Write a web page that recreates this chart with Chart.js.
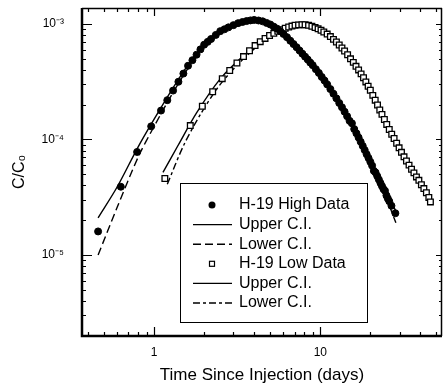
<!DOCTYPE html>
<html>
<head>
<meta charset="utf-8">
<script src="https://cdn.jsdelivr.net/npm/chart.js@4.4.1/dist/chart.umd.min.js"></script>
<style>
  html, body { margin: 0; padding: 0; background: #fff; }
  canvas { display: block; }
</style>
</head>
<body>
<canvas id="c" width="443" height="388"></canvas>
<script>
// H-19 high data (days, C/C0)
const highT = [0.46, 0.63, 0.79, 0.96, 1.10, 1.20, 1.30, 1.40, 1.50, 1.60, 1.70, 1.80, 1.90, 2.00, 2.10, 2.20,
  2.35, 2.50, 2.65, 2.80, 3.00, 3.20, 3.40, 3.60, 3.80, 4.00, 4.25, 4.50, 4.75, 5.00, 5.25, 5.50, 5.75, 6.00,
  6.30, 6.60, 6.90, 7.20, 7.50, 7.80, 8.10, 8.40, 8.70, 9.00, 9.40, 9.80, 10.2, 10.6, 11.0,
  11.5, 12.0, 12.5, 13.0, 13.5, 14.0, 14.5, 15.0, 15.5, 16.0, 16.5, 17.0,
  17.5, 18.0, 18.5, 19.0, 19.5, 20.0, 20.5, 21.0, 21.5, 22.0, 22.5, 23.0, 23.5, 24.0, 24.5, 25.0, 25.5, 26.0,
  26.8, 28.3];
const highC = [1.6e-5, 3.9e-5, 7.8e-5, 1.3e-4, 1.78e-4, 2.19e-4, 2.65e-4, 3.16e-4, 3.72e-4, 4.35e-4, 4.86e-4, 5.42e-4, 6.03e-4, 6.62e-4, 7.0e-4, 7.41e-4,
  8.04e-4, 8.67e-4, 9.0e-4, 9.35e-4, 9.77e-4, 1.016e-3, 1.04e-3, 1.06e-3, 1.074e-3, 1.084e-3, 1.072e-3, 1.054e-3, 1.021e-3, 9.9e-4, 9.48e-4, 9.1e-4, 8.65e-4, 8.2e-4,
  7.69e-4, 7.16e-4, 6.7e-4, 6.29e-4, 5.89e-4, 5.53e-4, 5.21e-4, 4.92e-4, 4.63e-4, 4.4e-4, 4.06e-4, 3.77e-4, 3.48e-4, 3.24e-4, 3.0e-4,
  2.73e-4, 2.49e-4, 2.27e-4, 2.07e-4, 1.9e-4, 1.74e-4, 1.59e-4, 1.45e-4, 1.38e-4, 1.23e-4, 1.13e-4, 1.04e-4,
  9.55e-5, 8.8e-5, 8.1e-5, 7.46e-5, 6.92e-5, 6.41e-5, 5.94e-5, 5.35e-5, 5.18e-5, 4.83e-5, 4.51e-5, 4.21e-5, 3.95e-5, 3.72e-5, 3.6e-5, 3.28e-5, 3.08e-5, 2.92e-5,
  2.67e-5, 2.3e-5];

// confidence limits for the high data
const highUpT = [0.46, 0.6, 0.8, 1.0, 1.3, 1.7, 2.2, 3.0, 4.0, 5.0, 6.5, 9.0, 12, 16, 20, 24, 28.5];
const highUpC = [2.1e-5, 3.9e-5, 8.6e-5, 1.5e-4, 2.8e-4, 5.0e-4, 7.6e-4, 9.9e-4, 1.09e-3, 1.0e-3, 7.5e-4, 4.5e-4, 2.55e-4, 1.26e-4, 6.6e-5, 3.9e-5, 2.4e-5];
const highLoT = [0.46, 0.6, 0.8, 1.0, 1.3, 1.7, 2.2, 3.0, 4.0, 5.0, 6.5, 9.0, 12, 16, 20, 24, 28.5];
const highLoC = [1.0e-5, 2.6e-5, 7.0e-5, 1.3e-4, 2.55e-4, 4.7e-4, 7.2e-4, 9.6e-4, 1.07e-3, 9.8e-4, 7.2e-4, 4.3e-4, 2.45e-4, 1.2e-4, 6.2e-5, 3.6e-5, 1.9e-5];

// H-19 low data
const lowT = [1.16, 1.65, 1.95, 2.25, 2.57, 2.85, 3.15, 3.45, 3.75, 4.05, 4.35, 4.65, 4.95, 5.25, 5.55, 5.85, 6.15, 6.45, 6.75, 7.05,
  7.40, 7.75, 8.10, 8.50, 8.90, 9.30, 9.70, 10.1, 10.5, 11.0, 11.5, 12.0, 12.5, 13.0, 13.5, 14.0, 14.6, 15.2, 15.8, 16.4,
  17.0, 17.6, 18.2, 18.8, 19.4, 20.0, 20.7, 21.4, 22.1, 22.8, 23.5, 24.3, 25.1, 26.0, 26.9, 27.8, 28.8, 29.8, 30.8, 31.9,
  33.0, 34.2, 35.4, 36.6, 37.9, 39.2, 40.6, 42.0, 43.5, 45.0, 46.0];
const lowC = [4.6e-5, 1.32e-4, 1.94e-4, 2.59e-4, 3.36e-4, 3.96e-4, 4.59e-4, 5.22e-4, 5.87e-4, 6.5e-4, 7.03e-4, 7.5e-4, 7.94e-4, 8.3e-4, 8.63e-4, 8.92e-4, 9.19e-4, 9.42e-4, 9.59e-4, 9.75e-4,
  9.82e-4, 9.86e-4, 9.84e-4, 9.73e-4, 9.55e-4, 9.31e-4, 9.08e-4, 8.83e-4, 8.53e-4, 8.18e-4, 7.78e-4, 7.36e-4, 6.98e-4, 6.58e-4, 6.19e-4, 5.83e-4, 5.41e-4, 4.99e-4, 4.65e-4, 4.3e-4,
  4.0e-4, 3.7e-4, 3.42e-4, 3.15e-4, 2.89e-4, 2.67e-4, 2.41e-4, 2.19e-4, 1.99e-4, 1.8e-4, 1.65e-4, 1.49e-4, 1.35e-4, 1.22e-4, 1.11e-4, 1.02e-4, 9.27e-5, 8.47e-5, 7.74e-5, 7.08e-5,
  6.52e-5, 6.0e-5, 5.52e-5, 5.14e-5, 4.74e-5, 4.43e-5, 4.06e-5, 3.76e-5, 3.46e-5, 3.15e-5, 2.88e-5];

// confidence limits for the low data
const lowUpT = [1.13, 1.4, 1.8, 2.5, 3.5, 5.0, 7.0, 9.0, 12, 16, 20, 25, 30, 36, 42, 47];
const lowUpC = [5.2e-5, 9.0e-5, 1.7e-4, 3.35e-4, 5.4e-4, 8.1e-4, 9.9e-4, 9.7e-4, 7.5e-4, 4.75e-4, 2.75e-4, 1.4e-4, 8.2e-5, 5.4e-5, 3.9e-5, 3.0e-5];
const lowLoT = [1.2, 1.5, 1.9, 2.5, 3.5, 5.0, 7.0, 9.0, 12, 16, 20, 25, 30, 36, 42, 47];
const lowLoC = [4.1e-5, 8.8e-5, 1.65e-4, 3.0e-4, 5.1e-4, 7.8e-4, 9.6e-4, 9.5e-4, 7.2e-4, 4.55e-4, 2.6e-4, 1.32e-4, 7.8e-5, 5.0e-5, 3.6e-5, 2.7e-5];

const xTicks = [1, 10];
const xTickLabels = ['1', '10'];
const yTicks = [1e-5, 1e-4, 1e-3];
const yTickLabels = ['10\u207B\u2075', '10\u207B\u2074', '10\u207B\u00B3'];

const FONT = '"Liberation Sans", Arial, Helvetica, sans-serif';
Chart.defaults.font.family = FONT;
Chart.defaults.color = '#000';

const pts = (xs, ys) => xs.map((x, i) => ({ x: x, y: ys[i] }));

function lineSet(label, xs, ys, dash) {
    return {
        label: label, data: pts(xs, ys), showLine: true, pointRadius: 0,
        borderColor: '#000', borderWidth: 1.4, borderDash: dash, tension: 0.3, order: 2
    };
}

// plot box reaches almost to the right edge of the picture
const rightEdgePlugin = {
    id: 'rightEdge',
    afterLayout(chart) {
        const xs = chart.scales.x;
        const r = chart.width - 1;
        chart.chartArea.right = r;
        chart.chartArea.width = r - chart.chartArea.left;
        xs.right = r;
        xs.width = r - xs.left;
        xs.configure();
    }
};

// frame with inward ticks on all four sides
const framePlugin = {
    id: 'frame',
    afterDraw(chart) {
        const { ctx, chartArea: a, scales } = chart;
        const xs = scales.x, ys = scales.y;
        ctx.save();
        ctx.strokeStyle = '#000';
        ctx.lineWidth = 1.5;
        ctx.beginPath();
        ctx.moveTo(a.left, a.top + 0.5); ctx.lineTo(a.right, a.top + 0.5);
        ctx.moveTo(a.right - 0.5, a.top); ctx.lineTo(a.right - 0.5, a.bottom);
        ctx.stroke();
        ctx.lineWidth = 2.5;
        ctx.beginPath();
        ctx.moveTo(a.left, a.top); ctx.lineTo(a.left, a.bottom);
        ctx.lineTo(a.right, a.bottom);
        ctx.stroke();

        ctx.lineWidth = 1.2;
        ctx.beginPath();
        for (let e = -1; e <= 1; e++) {
            for (let m = 1; m <= 9; m++) {
                const v = m * Math.pow(10, e);
                if (v < xs.min || v > xs.max) continue;
                const px = Math.round(xs.getPixelForValue(v)) + 0.5;
                const big = m === 1;
                ctx.moveTo(px, a.bottom); ctx.lineTo(px, a.bottom - (big ? 9 : 4));
                ctx.moveTo(px, a.top); ctx.lineTo(px, a.top + (big ? 8 : 4));
            }
        }
        for (let e = -6; e <= -3; e++) {
            for (let m = 1; m <= 9; m++) {
                const v = m * Math.pow(10, e);
                if (v < ys.min || v > ys.max) continue;
                const py = Math.round(ys.getPixelForValue(v)) + 0.5;
                const big = m === 1;
                ctx.moveTo(a.left, py); ctx.lineTo(a.left + (big ? 10 : 4), py);
                ctx.moveTo(a.right, py); ctx.lineTo(a.right - (big ? 6 : 3), py);
            }
        }
        ctx.stroke();
        ctx.restore();
    }
};

// boxed legend inside the plot
const legendPlugin = {
    id: 'boxLegend',
    afterDraw(chart) {
        const ctx = chart.ctx;
        const bx = 180, by = 183, bw = 187, bh = 139;
        ctx.save();
        ctx.fillStyle = '#fff';
        ctx.fillRect(bx, by, bw, bh);
        ctx.strokeStyle = '#000';
        ctx.lineWidth = 1;
        ctx.strokeRect(bx + 0.5, by + 0.5, bw, bh);
        ctx.font = '16px ' + FONT;
        ctx.textBaseline = 'middle';
        chart.data.datasets.forEach((ds, i) => {
            const y = 205 + i * 19.6;
            ctx.fillStyle = '#000';
            ctx.strokeStyle = '#000';
            if (ds.showLine) {
                ctx.lineWidth = ds.borderWidth;
                ctx.setLineDash(ds.borderDash || []);
                ctx.beginPath(); ctx.moveTo(193, y); ctx.lineTo(232, y); ctx.stroke();
                ctx.setLineDash([]);
            } else if (ds.pointStyle === 'circle') {
                ctx.beginPath(); ctx.arc(212, y, 3.5, 0, Math.PI * 2); ctx.fill();
            } else {
                ctx.lineWidth = 1.2;
                ctx.strokeRect(209.5, y - 2.5, 5, 5);
            }
            ctx.fillText(ds.label, 239, y);
        });
        ctx.restore();
    }
};

new Chart(document.getElementById('c'), {
    type: 'scatter',
    data: {
        datasets: [
            { label: 'H-19 High Data', data: pts(highT, highC), pointStyle: 'circle', pointRadius: 3.5,
              backgroundColor: '#000', borderColor: '#000', borderWidth: 1, order: 0 },
            lineSet('Upper C.I.', highUpT, highUpC, []),
            lineSet('Lower C.I.', highLoT, highLoC, [8, 4]),
            { label: 'H-19 Low Data', data: pts(lowT, lowC), pointStyle: 'rect', pointRadius: 4,
              backgroundColor: '#fff', borderColor: '#000', borderWidth: 1.3, order: 1 },
            lineSet('Upper C.I.', lowUpT, lowUpC, []),
            lineSet('Lower C.I.', lowLoT, lowLoC, [7, 3, 3, 3])
        ]
    },
    options: {
        responsive: false,
        animation: false,
        devicePixelRatio: 1,
        layout: { padding: { top: 8, right: 1, left: 0, bottom: 0 } },
        plugins: { legend: { display: false }, tooltip: { enabled: false } },
        scales: {
            x: {
                type: 'logarithmic', min: 0.368, max: 54,
                afterBuildTicks: s => { s.ticks = xTicks.map(v => ({ value: v })); },
                afterFit: s => { s.height = 52; s.paddingLeft = 0; s.paddingRight = 0; },
                grid: { display: false, drawTicks: false },
                border: { display: false },
                ticks: { color: '#000', font: { size: 12 }, padding: 9, maxRotation: 0, autoSkip: false,
                         callback: (v, i) => xTickLabels[i] },
                title: { display: true, text: 'Time Since Injection (days)', color: '#000',
                         font: { size: 17 }, padding: { top: 0, bottom: 2 } }
            },
            y: {
                type: 'logarithmic', min: 1.99e-6, max: 1.375e-3,
                afterBuildTicks: s => { s.ticks = yTicks.map(v => ({ value: v })); },
                afterFit: s => { s.width = 82; s.paddingTop = 0; s.paddingBottom = 0; },
                grid: { display: false, drawTicks: false },
                border: { display: false },
                ticks: { color: '#000', font: { size: 12 }, padding: 18, autoSkip: false,
                         callback: (v, i) => yTickLabels[i] },
                title: { display: true, text: 'C/C\u2080', color: '#000',
                         font: { size: 16 }, padding: { top: 10, bottom: 0 } }
            }
        }
    },
    plugins: [rightEdgePlugin, framePlugin, legendPlugin]
});
</script>
</body>
</html>
